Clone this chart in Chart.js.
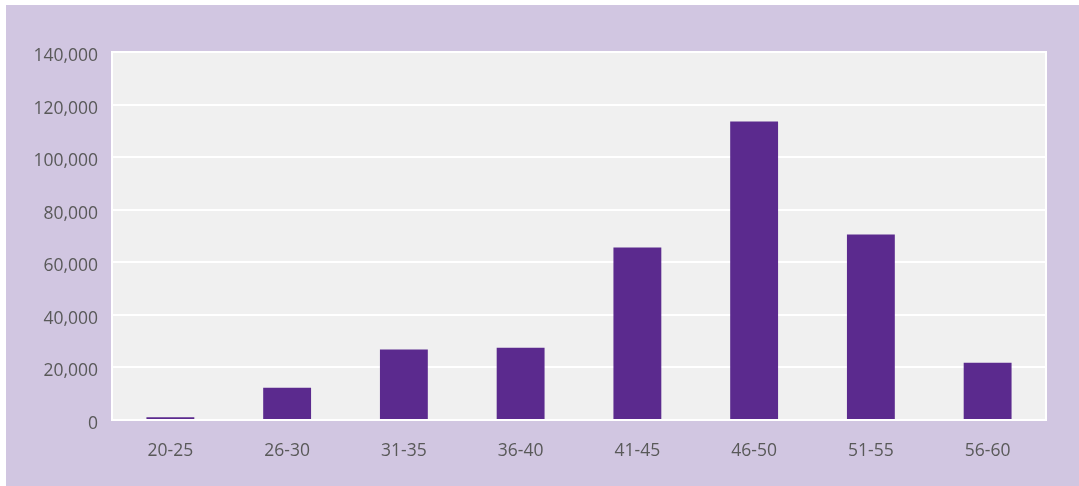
<!DOCTYPE html>
<html>
<head>
<meta charset="utf-8">
<script src="https://cdn.jsdelivr.net/npm/chart.js@4.4.1/dist/chart.umd.min.js"></script>
<style>
  html, body { margin: 0; padding: 0; background: #ffffff; }
  #frame {
    position: absolute; left: 6px; top: 5px;
    width: 1073px; height: 481px;
    background: #d1c6e1;
  }
  #chart { display: block; }
</style>
</head>
<body>
<div id="frame"><canvas id="chart" width="1073" height="481"></canvas></div>
<script>
// Data
const ageGroups = ['20-25', '26-30', '31-35', '36-40', '41-45', '46-50', '51-55', '56-60'];
const counts = [1000, 12300, 26800, 27500, 65600, 113600, 70600, 21800];
const yTicks = [0, 20000, 40000, 60000, 80000, 100000, 120000, 140000];

// Gray plot background with white frame
const plotFrame = {
  id: 'plotFrame',
  beforeDraw(chart) {
    const { ctx, chartArea: a } = chart;
    ctx.save();
    ctx.fillStyle = '#f0f0f0';
    ctx.fillRect(a.left, a.top, a.right - a.left, a.bottom - a.top);
    ctx.restore();
  },
  beforeDatasetsDraw(chart) {
    const { ctx, chartArea: a } = chart;
    ctx.save();
    ctx.strokeStyle = '#ffffff';
    ctx.lineWidth = 2;
    ctx.strokeRect(a.left, a.top, a.right - a.left, a.bottom - a.top);
    ctx.restore();
  }
};

new Chart(document.getElementById('chart'), {
  type: 'bar',
  data: {
    labels: ageGroups,
    datasets: [{
      data: counts,
      backgroundColor: '#5b2a8e',
      borderWidth: 0,
      categoryPercentage: 1,
      barPercentage: 0.41
    }]
  },
  options: {
    responsive: false,
    animation: false,
    layout: { padding: { left: 0, top: 47, right: 33, bottom: 0 } },
    plugins: { legend: { display: false }, tooltip: { enabled: false } },
    scales: {
      x: {
        grid: { display: false, drawTicks: false },
        border: { display: false },
        ticks: { color: '#595959', font: { family: 'Open Sans', size: 17.5 }, padding: 21 },
        afterFit(scale) { scale.height = 66; }
      },
      y: {
        min: 0,
        max: 140000,
        afterBuildTicks(scale) { scale.ticks = yTicks.map(v => ({ value: v })); },
        grid: { color: '#ffffff', lineWidth: 2, drawTicks: false },
        border: { display: false },
        ticks: {
          color: '#595959',
          font: { family: 'Open Sans', size: 17.5 },
          padding: 14,
          labelOffset: 4,
          callback: v => v.toLocaleString('en-US')
        },
        afterFit(scale) { scale.width = 106; }
      }
    }
  },
  plugins: [plotFrame]
});
</script>
</body>
</html>
